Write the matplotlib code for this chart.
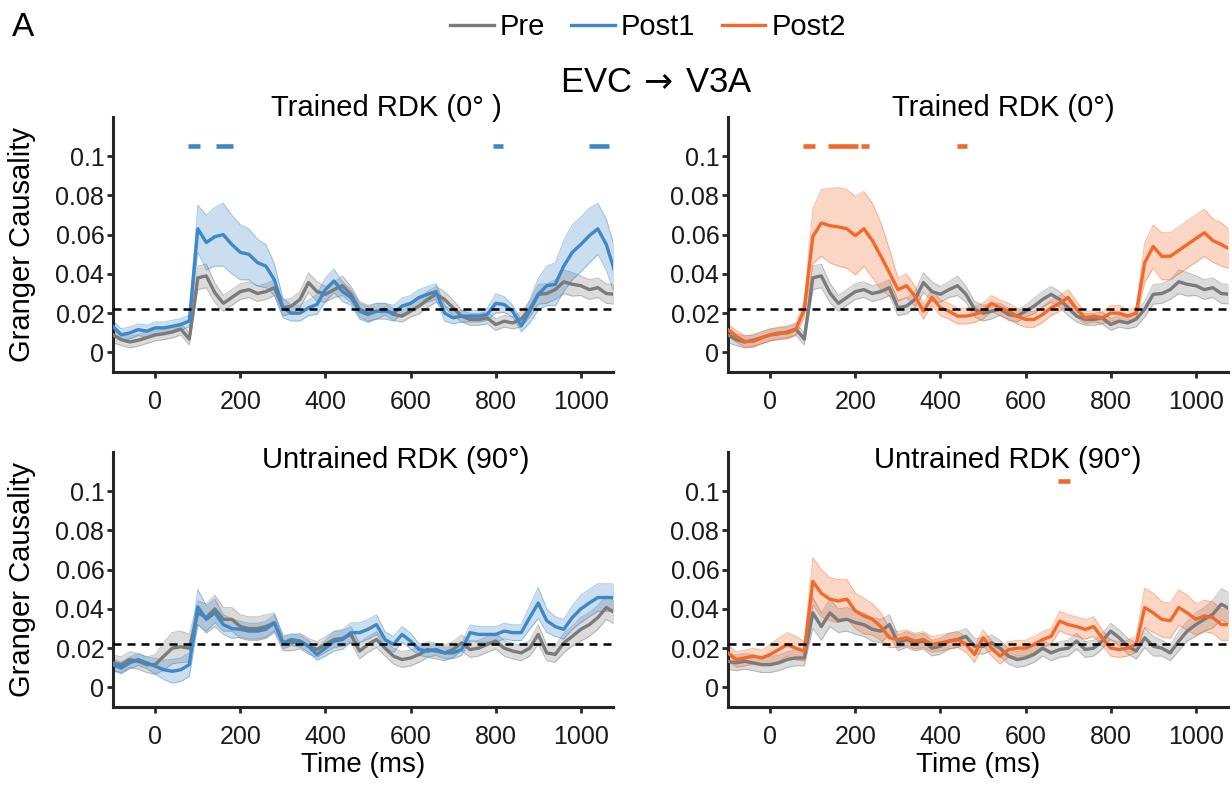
import numpy as np
import matplotlib
matplotlib.use("Agg")
import matplotlib.pyplot as plt
from matplotlib.lines import Line2D

plt.rcParams["font.family"] = ["Liberation Sans", "DejaVu Sans"]

# time axis (ms), one sample every 20 ms
time = np.arange(-100, 1081, 20)

# ---- trained RDK (0 deg) ----
pre_trained = [
    0.0090, 0.0065, 0.0053, 0.0062, 0.0075, 0.0089, 0.0095, 0.0104, 0.0119, 0.0068,
    0.0380, 0.0390, 0.0304, 0.0250, 0.0280, 0.0310, 0.0320, 0.0300, 0.0310, 0.0330,
    0.0227, 0.0236, 0.0270, 0.0356, 0.0310, 0.0296, 0.0320, 0.0340, 0.0296, 0.0220,
    0.0200, 0.0210, 0.0220, 0.0193, 0.0185, 0.0210, 0.0236, 0.0270, 0.0296, 0.0270,
    0.0227, 0.0185, 0.0168, 0.0168, 0.0176, 0.0142, 0.0159, 0.0150, 0.0170, 0.0220,
    0.0296, 0.0300, 0.0320, 0.0360, 0.0347, 0.0340, 0.0320, 0.0330, 0.0300, 0.0296]
sem_pre_trained = [
    0.004, 0.003, 0.003, 0.003, 0.003, 0.003, 0.003, 0.003, 0.003, 0.003,
    0.006, 0.006, 0.005, 0.004, 0.004, 0.004, 0.004, 0.004, 0.004, 0.004,
    0.004, 0.004, 0.004, 0.005, 0.005, 0.004, 0.004, 0.005, 0.004, 0.004,
    0.004, 0.004, 0.003, 0.003, 0.003, 0.003, 0.004, 0.004, 0.004, 0.004,
    0.004, 0.003, 0.003, 0.003, 0.003, 0.003, 0.003, 0.003, 0.004, 0.004,
    0.005, 0.005, 0.005, 0.006, 0.006, 0.005, 0.005, 0.005, 0.005, 0.005]

post1_trained = [
    0.0133, 0.0090, 0.0099, 0.0116, 0.0108, 0.0125, 0.0125, 0.0133, 0.0142, 0.0160,
    0.0630, 0.0560, 0.0590, 0.0600, 0.0550, 0.0510, 0.0500, 0.0458, 0.0440, 0.0370,
    0.0227, 0.0200, 0.0200, 0.0227, 0.0244, 0.0320, 0.0364, 0.0310, 0.0280, 0.0210,
    0.0193, 0.0210, 0.0210, 0.0200, 0.0236, 0.0250, 0.0280, 0.0296, 0.0310, 0.0200,
    0.0176, 0.0185, 0.0185, 0.0185, 0.0193, 0.0250, 0.0244, 0.0210, 0.0135, 0.0210,
    0.0296, 0.0340, 0.0347, 0.0440, 0.0510, 0.0550, 0.0595, 0.0630, 0.0550, 0.0410]
sem_post1_trained = [
    0.003, 0.003, 0.003, 0.003, 0.003, 0.003, 0.003, 0.003, 0.003, 0.003,
    0.012, 0.014, 0.015, 0.016, 0.015, 0.014, 0.013, 0.012, 0.011, 0.008,
    0.005, 0.004, 0.004, 0.004, 0.005, 0.006, 0.006, 0.005, 0.004, 0.004,
    0.004, 0.004, 0.004, 0.004, 0.004, 0.004, 0.004, 0.004, 0.004, 0.004,
    0.003, 0.003, 0.003, 0.003, 0.003, 0.005, 0.004, 0.003, 0.003, 0.006,
    0.008, 0.010, 0.011, 0.013, 0.014, 0.014, 0.014, 0.013, 0.013, 0.012]

post2_trained = [
    0.0116, 0.0082, 0.0056, 0.0056, 0.0074, 0.0090, 0.0099, 0.0099, 0.0116, 0.0220,
    0.0590, 0.0660, 0.0646, 0.0640, 0.0630, 0.0595, 0.0630, 0.0570, 0.0490, 0.0407,
    0.0320, 0.0340, 0.0287, 0.0210, 0.0280, 0.0227, 0.0210, 0.0185, 0.0185, 0.0193,
    0.0210, 0.0250, 0.0227, 0.0210, 0.0185, 0.0168, 0.0168, 0.0193, 0.0227, 0.0250,
    0.0280, 0.0220, 0.0176, 0.0185, 0.0176, 0.0200, 0.0200, 0.0185, 0.0200, 0.0458,
    0.0540, 0.0490, 0.0490, 0.0520, 0.0550, 0.0580, 0.0610, 0.0570, 0.0550, 0.0526]
sem_post2_trained = [
    0.003, 0.003, 0.003, 0.003, 0.003, 0.003, 0.003, 0.003, 0.003, 0.004,
    0.014, 0.017, 0.019, 0.020, 0.020, 0.020, 0.019, 0.019, 0.017, 0.012,
    0.006, 0.006, 0.005, 0.004, 0.004, 0.004, 0.004, 0.004, 0.004, 0.004,
    0.004, 0.004, 0.004, 0.004, 0.004, 0.004, 0.004, 0.004, 0.004, 0.004,
    0.004, 0.004, 0.003, 0.003, 0.003, 0.004, 0.004, 0.003, 0.003, 0.010,
    0.011, 0.012, 0.012, 0.012, 0.012, 0.012, 0.012, 0.011, 0.011, 0.010]

# ---- untrained RDK (90 deg) ----
pre_untrained_1 = [
    0.0125, 0.0116, 0.0142, 0.0133, 0.0116, 0.0116, 0.0159, 0.0200, 0.0207, 0.0200,
    0.0380, 0.0356, 0.0400, 0.0347, 0.0347, 0.0310, 0.0300, 0.0300, 0.0310, 0.0330,
    0.0227, 0.0227, 0.0236, 0.0210, 0.0193, 0.0219, 0.0244, 0.0250, 0.0270, 0.0185,
    0.0219, 0.0244, 0.0200, 0.0159, 0.0142, 0.0150, 0.0168, 0.0193, 0.0185, 0.0176,
    0.0193, 0.0227, 0.0193, 0.0200, 0.0219, 0.0236, 0.0200, 0.0185, 0.0176, 0.0200,
    0.0270, 0.0176, 0.0168, 0.0227, 0.0260, 0.0296, 0.0320, 0.0356, 0.0407, 0.0380]
sem_pre_untrained_1 = [
    0.004, 0.004, 0.004, 0.004, 0.004, 0.005, 0.007, 0.008, 0.008, 0.007,
    0.006, 0.007, 0.007, 0.006, 0.006, 0.006, 0.006, 0.006, 0.006, 0.005,
    0.004, 0.004, 0.004, 0.004, 0.004, 0.004, 0.004, 0.004, 0.004, 0.004,
    0.004, 0.004, 0.004, 0.004, 0.004, 0.004, 0.004, 0.004, 0.004, 0.004,
    0.004, 0.004, 0.004, 0.004, 0.004, 0.004, 0.004, 0.004, 0.004, 0.004,
    0.005, 0.004, 0.004, 0.005, 0.005, 0.006, 0.006, 0.006, 0.006, 0.006]

post1_untrained = [
    0.0116, 0.0099, 0.0125, 0.0142, 0.0125, 0.0108, 0.0090, 0.0082, 0.0090, 0.0116,
    0.0410, 0.0347, 0.0380, 0.0320, 0.0300, 0.0296, 0.0287, 0.0287, 0.0296, 0.0330,
    0.0227, 0.0244, 0.0236, 0.0210, 0.0168, 0.0200, 0.0236, 0.0244, 0.0279, 0.0279,
    0.0296, 0.0320, 0.0244, 0.0219, 0.0270, 0.0236, 0.0193, 0.0185, 0.0193, 0.0176,
    0.0176, 0.0193, 0.0279, 0.0270, 0.0270, 0.0270, 0.0287, 0.0279, 0.0279, 0.0356,
    0.0430, 0.0340, 0.0310, 0.0296, 0.0356, 0.0400, 0.0430, 0.0458, 0.0458, 0.0458]
sem_post1_untrained = [
    0.003, 0.003, 0.003, 0.003, 0.003, 0.004, 0.005, 0.006, 0.006, 0.006,
    0.009, 0.007, 0.007, 0.005, 0.005, 0.004, 0.004, 0.004, 0.004, 0.004,
    0.003, 0.003, 0.003, 0.003, 0.003, 0.004, 0.005, 0.005, 0.005, 0.005,
    0.005, 0.005, 0.004, 0.004, 0.004, 0.004, 0.003, 0.003, 0.003, 0.003,
    0.003, 0.003, 0.004, 0.004, 0.004, 0.004, 0.004, 0.004, 0.004, 0.006,
    0.008, 0.006, 0.005, 0.005, 0.006, 0.007, 0.007, 0.007, 0.007, 0.007]

pre_untrained_2 = [
    0.0133, 0.0125, 0.0133, 0.0125, 0.0116, 0.0116, 0.0125, 0.0142, 0.0150, 0.0150,
    0.0380, 0.0310, 0.0380, 0.0340, 0.0347, 0.0330, 0.0320, 0.0296, 0.0287, 0.0320,
    0.0227, 0.0244, 0.0227, 0.0236, 0.0200, 0.0210, 0.0236, 0.0244, 0.0260, 0.0210,
    0.0210, 0.0227, 0.0200, 0.0159, 0.0142, 0.0150, 0.0168, 0.0200, 0.0176, 0.0193,
    0.0200, 0.0236, 0.0193, 0.0200, 0.0236, 0.0287, 0.0253, 0.0210, 0.0185, 0.0253,
    0.0210, 0.0200, 0.0176, 0.0236, 0.0287, 0.0320, 0.0347, 0.0373, 0.0424, 0.0400]
sem_pre_untrained_2 = [
    0.004, 0.004, 0.004, 0.004, 0.004, 0.004, 0.004, 0.004, 0.004, 0.004,
    0.008, 0.007, 0.007, 0.006, 0.006, 0.006, 0.006, 0.006, 0.006, 0.005,
    0.004, 0.004, 0.004, 0.004, 0.004, 0.004, 0.004, 0.004, 0.004, 0.004,
    0.004, 0.004, 0.004, 0.004, 0.004, 0.004, 0.004, 0.004, 0.004, 0.004,
    0.004, 0.004, 0.004, 0.004, 0.004, 0.004, 0.004, 0.004, 0.004, 0.005,
    0.005, 0.004, 0.004, 0.005, 0.005, 0.006, 0.006, 0.007, 0.008, 0.008]

post2_untrained = [
    0.0176, 0.0142, 0.0150, 0.0159, 0.0150, 0.0168, 0.0193, 0.0219, 0.0200, 0.0185,
    0.0540, 0.0480, 0.0450, 0.0440, 0.0450, 0.0390, 0.0364, 0.0347, 0.0310, 0.0253,
    0.0244, 0.0253, 0.0236, 0.0244, 0.0219, 0.0227, 0.0236, 0.0244, 0.0219, 0.0168,
    0.0253, 0.0200, 0.0159, 0.0193, 0.0200, 0.0200, 0.0219, 0.0244, 0.0260, 0.0338,
    0.0320, 0.0310, 0.0296, 0.0310, 0.0253, 0.0200, 0.0193, 0.0200, 0.0219, 0.0407,
    0.0380, 0.0347, 0.0340, 0.0407, 0.0380, 0.0347, 0.0364, 0.0356, 0.0320, 0.0320]
sem_post2_untrained = [
    0.004, 0.004, 0.004, 0.004, 0.004, 0.005, 0.006, 0.006, 0.006, 0.005,
    0.012, 0.012, 0.011, 0.011, 0.010, 0.009, 0.009, 0.008, 0.007, 0.005,
    0.004, 0.004, 0.004, 0.004, 0.004, 0.004, 0.004, 0.004, 0.004, 0.004,
    0.004, 0.004, 0.004, 0.004, 0.004, 0.004, 0.004, 0.004, 0.004, 0.005,
    0.005, 0.005, 0.005, 0.005, 0.004, 0.004, 0.004, 0.004, 0.004, 0.010,
    0.010, 0.009, 0.009, 0.009, 0.009, 0.008, 0.008, 0.008, 0.008, 0.008]

# significant clusters (start, end) in ms
sig_post1_trained = [(78, 106), (143, 182), (793, 818), (1020, 1066)]
sig_post2_trained = [(76, 105), (135, 207), (213, 232), (439, 463)]
sig_post1_untrained = []
sig_post2_untrained = [(676, 704)]

chance_level = 0.022
sig_y = 0.105

c_pre = "#7b7b7b"
c_post1 = "#3d88c8"
c_post2 = "#f26a2a"


def shaded(ax, mean, sem, color):
    mean = np.array(mean)
    sem = np.array(sem)
    ax.fill_between(time, mean - sem, mean + sem, color=color,
                    alpha=0.27, linewidth=0, zorder=2)
    ax.plot(time, mean + sem, color=color, lw=0.7, alpha=0.45, zorder=2)
    ax.plot(time, mean - sem, color=color, lw=0.7, alpha=0.45, zorder=2)
    ax.plot(time, mean, color=color, lw=2.4, zorder=3)


W, H = 1232, 789
fig = plt.figure(figsize=(W / 100, H / 100), dpi=100)

panels = [
    # left px, top px, post, sem_post, pre, sem_pre, color, sig, title, title x, title y
    (112.7, 117, post1_trained, sem_post1_trained, pre_trained, sem_pre_trained,
     c_post1, sig_post1_trained, "Trained RDK (0\u00b0 )", 386, 108),
    (727.7, 117, post2_trained, sem_post2_trained, pre_trained, sem_pre_trained,
     c_post2, sig_post2_trained, "Trained RDK (0\u00b0)", 1003, 108),
    (112.7, 452, post1_untrained, sem_post1_untrained, pre_untrained_1, sem_pre_untrained_1,
     c_post1, sig_post1_untrained, "Untrained RDK (90\u00b0)", 396, 460),
    (727.7, 452, post2_untrained, sem_post2_untrained, pre_untrained_2, sem_pre_untrained_2,
     c_post2, sig_post2_untrained, "Untrained RDK (90\u00b0)", 1008, 460),
]

ax_w, ax_h = 500, 255

for i, (lx, ty, post, sp, pre, spre, col, sig, title, tx, tyy) in enumerate(panels):
    ax = fig.add_axes([lx / W, 1 - (ty + ax_h) / H, ax_w / W, ax_h / H])

    shaded(ax, pre, spre, c_pre)
    shaded(ax, post, sp, col)
    ax.axhline(chance_level, color="black", lw=1.8, ls=(0, (3.2, 2.4)), zorder=4)

    for s, e in sig:
        ax.plot([s, e], [sig_y, sig_y], color=col, lw=3.3,
                solid_capstyle="butt", zorder=5)

    ax.set_xlim(-100, 1075)
    ax.set_ylim(-0.01, 0.12)
    ax.set_xticks([0, 200, 400, 600, 800, 1000])
    ax.set_yticks([0, 0.02, 0.04, 0.06, 0.08, 0.1])
    ax.set_yticklabels(["0", "0.02", "0.04", "0.06", "0.08", "0.1"])
    ax.tick_params(labelsize=18, width=2, length=4.5, color="#262626",
                   labelcolor="#1a1a1a")
    ax.tick_params(axis="y", pad=1.5)
    ax.tick_params(axis="x", pad=8.5)

    for side in ["top", "right"]:
        ax.spines[side].set_visible(False)
    for side in ["left", "bottom"]:
        ax.spines[side].set_linewidth(2.2)
        ax.spines[side].set_color("#262626")

    if i % 2 == 0:
        ax.set_ylabel("Granger Causality", fontsize=21)
        ax.yaxis.set_label_coords(-0.154, 0.5)
    if i >= 2:
        ax.set_xlabel("Time (ms)", fontsize=20, labelpad=2)

    fig.text(tx / W, 1 - tyy / H, title, fontsize=21, ha="center", va="center")

fig.text(23 / W, 1 - 27 / H, "A", fontsize=24, ha="center", va="center")
fig.text(657 / W, 1 - 82 / H, r"EVC$\,\rightarrow\,$V3A", fontsize=25,
         ha="center", va="center")

handles = [Line2D([], [], color=c_pre, lw=2.4),
           Line2D([], [], color=c_post1, lw=2.4),
           Line2D([], [], color=c_post2, lw=2.4)]
fig.legend(handles, ["Pre", "Post1", "Post2"], loc="center",
           bbox_to_anchor=(648 / W, 1 - 27 / H), ncol=3, frameon=False,
           fontsize=21, handlelength=1.5, handletextpad=0.2,
           columnspacing=0.9, borderpad=0)

fig.savefig("out.png", dpi=100)
